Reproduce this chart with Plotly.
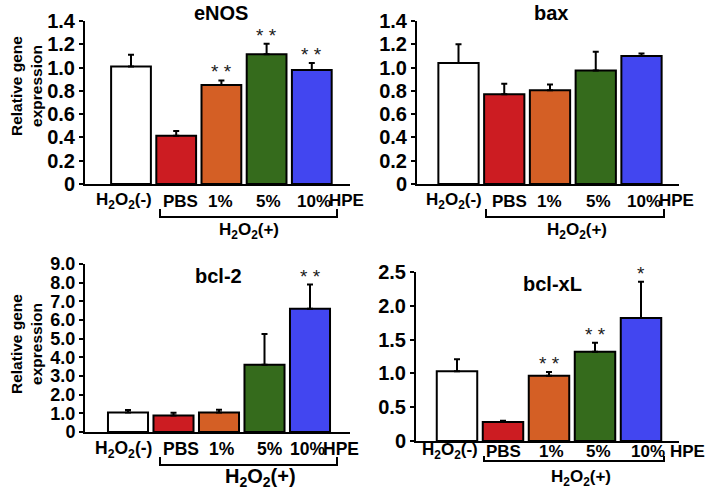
import plotly.graph_objects as go

W, H = 708, 498

categories = ["H<sub>2</sub>O<sub>2</sub>(-)", "PBS", "1%", "5%", "10%"]
bar_colors = ["#ffffff", "#cc1c22", "#d45f25", "#356b1c", "#4246f0"]

enos_mean = [1.01, 0.415, 0.85, 1.115, 0.98]
enos_err = [0.10, 0.04, 0.04, 0.09, 0.06]
enos_sig = ["", "", "* *", "* *", "* *"]

bax_mean = [1.04, 0.77, 0.805, 0.975, 1.10]
bax_err = [0.16, 0.09, 0.05, 0.16, 0.02]
bax_sig = ["", "", "", "", ""]

bcl2_mean = [1.05, 0.88, 1.05, 3.6, 6.6]
bcl2_err = [0.13, 0.15, 0.14, 1.65, 1.3]
bcl2_sig = ["", "", "", "", "* *"]

bclxl_mean = [1.03, 0.28, 0.965, 1.32, 1.82]
bclxl_err = [0.18, 0.02, 0.055, 0.135, 0.535]
bclxl_sig = ["", "", "* *", "* *", "*"]

enos_ticks = [0, 0.2, 0.4, 0.6, 0.8, 1.0, 1.2, 1.4]
enos_ticktext = ["0", "0.2", "0.4", "0.6", "0.8", "1.0", "1.2", "1.4"]
bcl2_ticks = [0, 1, 2, 3, 4, 5, 6, 7, 8, 9]
bcl2_ticktext = ["0", "1.0", "2.0", "3.0", "4.0", "5.0", "6.0", "7.0", "8.0", "9.0"]
bclxl_ticks = [0, 0.5, 1.0, 1.5, 2.0, 2.5]
bclxl_ticktext = ["0", "0.5", "1.0", "1.5", "2.0", "2.5"]

FONT = "Liberation Sans, Arial, Helvetica, sans-serif"


def px(x):
    return x / W


def py(y):
    return 1 - y / H


panels = [
    dict(name="eNOS", mean=enos_mean, err=enos_err, sig=enos_sig, ticks=enos_ticks, ticktext=enos_ticktext,
         top=1.4, L=85, R=350, c0=131, sp=45.2, yt=21, yb=184, title_xy=(221, 13), lab=17, lab2=17, yfs=20,
         shifts=[-7, 4, -1, 2, 2], ldrop=17,
         hpe=(327, 200), plus=(249, 231), br=(160, 337, 209, 217), ytitle=(26, 86)),
    dict(name="bax", mean=bax_mean, err=bax_err, sig=bax_sig, ticks=enos_ticks, ticktext=enos_ticktext,
         top=1.4, L=417, R=679, c0=458.5, sp=45.75, yt=21, yb=184, title_xy=(551, 13), lab=17, lab2=17, yfs=20,
         shifts=[-5, 5, -1, 3, 2], ldrop=17,
         hpe=(657, 200), plus=(577, 231), br=(486, 664, 209, 217), ytitle=None),
    dict(name="bcl-2", mean=bcl2_mean, err=bcl2_err, sig=bcl2_sig, ticks=bcl2_ticks, ticktext=bcl2_ticktext,
         top=9.0, L=85, R=350, c0=128, sp=45.5, yt=264, yb=432, title_xy=(218, 276), lab=17.5, lab2=20, yfs=18,
         shifts=[-5, 7, 3, 5, -3], ldrop=17,
         hpe=(321, 449), plus=(260, 477), br=(160, 337, 457, 465), ytitle=(26, 344)),
    dict(name="bcl-xL", mean=bclxl_mean, err=bclxl_err, sig=bclxl_sig, ticks=bclxl_ticks, ticktext=bclxl_ticktext,
         top=2.5, L=416, R=679, c0=457, sp=46, yt=272, yb=441, title_xy=(552, 284), lab=17, lab2=17, yfs=20,
         shifts=[-7, 0, 2, 3, 7], ldrop=10,
         hpe=(668, 451), plus=(581, 478), br=(484, 664, 456, 461), ytitle=None),
]

fig = go.Figure()
layout = dict(
    width=W, height=H, margin=dict(l=0, r=0, t=0, b=0, autoexpand=False),
    paper_bgcolor="white", plot_bgcolor="white", showlegend=False,
    font=dict(family=FONT, color="black"),
)
annotations = []
shapes = []

for i, p in enumerate(panels):
    k = "" if i == 0 else str(i + 1)
    xa, ya = "x" + k, "y" + k
    fig.add_trace(go.Bar(
        x=categories, y=p["mean"], xaxis=xa, yaxis=ya, width=0.88,
        marker=dict(color=bar_colors, line=dict(color="black", width=2)),
        error_y=dict(type="data", array=p["err"], arrayminus=[0] * len(p["err"]), symmetric=False,
                     color="black", thickness=2, width=3),
        hoverinfo="skip",
    ))
    x0 = (p["L"] - p["c0"]) / p["sp"]
    x1 = (p["R"] - p["c0"]) / p["sp"]
    layout["xaxis" + k] = dict(
        domain=[px(p["L"]), px(p["R"])], anchor=ya, type="category", range=[x0, x1],
        showline=True, linecolor="black", linewidth=2, showgrid=False, zeroline=False,
        ticks="", showticklabels=False, automargin=False, fixedrange=True,
    )
    layout["yaxis" + k] = dict(
        domain=[py(p["yb"]), py(p["yt"])], anchor=xa, range=[0, p["top"]],
        showline=True, linecolor="black", linewidth=2, showgrid=False, zeroline=False,
        ticks="outside", ticklen=4, tickwidth=2, tickcolor="black", automargin=False,
        tickvals=p["ticks"], ticktext=p["ticktext"],
        tickfont=dict(family=FONT, size=p["yfs"], weight="bold", color="black"),
        fixedrange=True,
    )
    # category labels under the axis, positioned on the category scale
    for cat, sh in zip(categories, p["shifts"]):
        annotations.append(dict(
            x=cat, y=0, xref=xa, yref=ya, text=cat, showarrow=False,
            xanchor="center", yanchor="middle", xshift=sh, yshift=-p["ldrop"],
            font=dict(family=FONT, size=p["lab"], weight="bold", color="black"),
        ))
    annotations.append(dict(
        x=px(p["title_xy"][0]), y=py(p["title_xy"][1]), xref="paper", yref="paper",
        text=p["name"], showarrow=False, xanchor="center", yanchor="middle",
        font=dict(family=FONT, size=20, weight="bold", color="black"),
    ))
    for cat, m, e, s in zip(categories, p["mean"], p["err"], p["sig"]):
        if s:
            annotations.append(dict(
                x=cat, y=m + e, xref=xa, yref=ya, text=s, showarrow=False,
                xanchor="center", yanchor="bottom", yshift=-4,
                font=dict(family=FONT, size=19, color="#1a1a1a"),
            ))
    annotations.append(dict(
        x=px(p["hpe"][0]), y=py(p["hpe"][1]), xref="paper", yref="paper", text="HPE",
        showarrow=False, xanchor="left", yanchor="middle",
        font=dict(family=FONT, size=p["lab"], weight="bold", color="black"),
    ))
    annotations.append(dict(
        x=px(p["plus"][0]), y=py(p["plus"][1]), xref="paper", yref="paper",
        text="H<sub>2</sub>O<sub>2</sub>(+)", showarrow=False, xanchor="center", yanchor="middle",
        font=dict(family=FONT, size=p["lab2"], weight="bold", color="black"),
    ))
    bx0, bx1, by0, by1 = p["br"]
    shapes.append(dict(
        type="path", xref="paper", yref="paper",
        path=f"M {px(bx0)},{py(by0)} L {px(bx0)},{py(by1)} L {px(bx1)},{py(by1)} L {px(bx1)},{py(by0)}",
        line=dict(color="black", width=2),
    ))
    if p["ytitle"]:
        annotations.append(dict(
            x=px(p["ytitle"][0]), y=py(p["ytitle"][1]), xref="paper", yref="paper",
            text="Relative gene<br>expression", showarrow=False, textangle=-90,
            xanchor="center", yanchor="middle",
            font=dict(family=FONT, size=15.5, weight="bold", color="black"),
        ))

layout["annotations"] = annotations
layout["shapes"] = shapes
fig.update_layout(**layout)
fig.write_html(
    "out.html",
    config={"displayModeBar": False},
    post_script="document.body.style.margin='0';document.body.style.padding='0';",
)
